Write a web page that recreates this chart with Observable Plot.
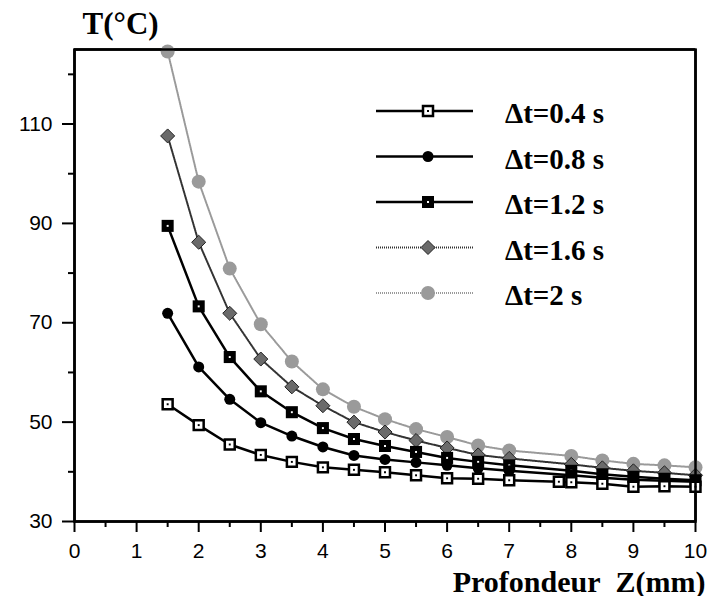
<!DOCTYPE html>
<html>
<head>
<meta charset="utf-8">
<script src="https://cdn.jsdelivr.net/npm/d3@7"></script>
<script src="https://cdn.jsdelivr.net/npm/@observablehq/plot@0.6"></script>
<style>
  html, body { margin: 0; padding: 0; background: white; overflow: hidden; }
  #wrap { width: 715px; height: 596px; font-family: 'Liberation Sans', Arial, sans-serif; }
  #wrap > svg { display: block; }
</style>
</head>
<body>
<div id="wrap"></div>
<script>
// ---- data ----
const zDepth   = [1.5, 2, 2.5, 3, 3.5, 4, 4.5, 5, 5.5, 6, 6.5, 7, 8, 8.5, 9, 9.5, 10];
const zDepth04 = [1.5, 2, 2.5, 3, 3.5, 4, 4.5, 5, 5.5, 6, 6.5, 7, 7.8, 8, 8.5, 9, 9.5, 10];
const temp04 = [53.6, 49.4, 45.5, 43.4, 42.0, 40.9, 40.4, 39.9, 39.3, 38.7, 38.6, 38.3, 38.0, 37.9, 37.6, 37.0, 37.1, 37.0];
const temp08 = [71.9, 61.1, 54.6, 49.9, 47.2, 45.0, 43.3, 42.5, 41.9, 41.3, 40.7, 40.2, 39.3, 38.8, 38.4, 38.2, 38.0];
const temp12 = [89.5, 73.3, 63.1, 56.2, 52.0, 48.8, 46.6, 45.2, 44.0, 42.8, 42.0, 41.3, 40.2, 39.5, 39.0, 38.6, 38.3];
const temp16 = [107.6, 86.2, 71.9, 62.7, 57.1, 53.3, 50.0, 48.0, 46.3, 44.8, 43.4, 42.7, 41.5, 40.8, 40.2, 39.8, 39.3];
const temp20 = [124.6, 98.4, 80.9, 69.7, 62.2, 56.6, 53.1, 50.6, 48.6, 47.0, 45.3, 44.3, 43.2, 42.3, 41.6, 41.3, 40.9];
const seriesLabels = ["\u0394t=0.4 s", "\u0394t=0.8 s", "\u0394t=1.2 s", "\u0394t=1.6 s", "\u0394t=2 s"];
const xDomain = [0, 10];
const yDomain = [30, 125];
const yTicksMajor = [30, 50, 70, 90, 110];
const yTicksMinor = [40, 60, 80, 100, 120];
const xTicksMajor = [0, 1, 2, 3, 4, 5, 6, 7, 8, 9, 10];
const xTicksMinor = [0.5, 1.5, 2.5, 3.5, 4.5, 5.5, 6.5, 7.5, 8.5, 9.5];
const yTitle = "T(\u00b0C)";
const xTitle = "Profondeur\u00a0\u00a0Z(mm)";

const rows = (z, t) => z.map((x, i) => ({z: x, t: t[i]}));
const d04 = rows(zDepth04, temp04);
const d08 = rows(zDepth, temp08);
const d12 = rows(zDepth, temp12);
const d16 = rows(zDepth, temp16);
const d20 = rows(zDepth, temp20);

const diamondSym = {
  draw(ctx, size) {
    const r = Math.sqrt(size / 2);
    ctx.moveTo(0, -r); ctx.lineTo(r, 0); ctx.lineTo(0, r); ctx.lineTo(-r, 0); ctx.closePath();
  }
};

const serif = "'Liberation Serif', 'Times New Roman', serif";
const sans = "'Liberation Sans', Arial, sans-serif";
const xy = {x: "z", y: "t"};

const chart = Plot.plot({
  width: 715,
  height: 596,
  marginLeft: 74,
  marginRight: 20,
  marginTop: 49,
  marginBottom: 75,
  x: {domain: xDomain, label: null},
  y: {domain: yDomain, label: null},
  marks: [
    Plot.frame({stroke: "black", strokeWidth: 2.5}),
    // series 2 s
    Plot.line(d20, {...xy, stroke: "#9a9a9a", strokeWidth: 2, strokeDasharray: "1,1"}),
    Plot.dot(d20, {...xy, r: 7, fill: "#9a9a9a"}),
    // series 1.6 s
    Plot.line(d16, {...xy, stroke: "#333", strokeWidth: 2, strokeDasharray: "1,1"}),
    Plot.dot(d16, {...xy, symbol: diamondSym, r: 5.6, fill: "#6a6a6a", stroke: "#222", strokeWidth: 1}),
    // series 1.2 s
    Plot.line(d12, {...xy, stroke: "black", strokeWidth: 2.5}),
    Plot.dot(d12, {...xy, symbol: "square", r: 6.8, fill: "black"}),
    Plot.dot(d12, {...xy, symbol: "square", r: 1.1, fill: "white"}),
    // series 0.8 s
    Plot.line(d08, {...xy, stroke: "black", strokeWidth: 2.5}),
    Plot.dot(d08, {...xy, r: 5.5, fill: "black"}),
    // series 0.4 s
    Plot.line(d04, {...xy, stroke: "black", strokeWidth: 2.5}),
    Plot.dot(d04, {...xy, symbol: "square", r: 5.6, fill: "white", stroke: "black", strokeWidth: 2.5}),
    Plot.dot(d04, {...xy, symbol: "square", r: 1.1, fill: "black"}),
    // axes
    Plot.axisY(yTicksMajor, {tickSize: 12, tickPadding: 10, strokeWidth: 2, fontSize: 21, fontFamily: sans, label: null}),
    Plot.axisY(yTicksMinor, {tickSize: 6, tickFormat: () => "", strokeWidth: 2, label: null}),
    Plot.axisX(xTicksMajor, {tickSize: 11, tickPadding: 11, strokeWidth: 2, fontSize: 21, fontFamily: sans, label: null}),
    Plot.axisX(xTicksMinor, {tickSize: 6, tickFormat: () => "", strokeWidth: 2, label: null}),
    // titles
    Plot.text([yTitle], {frameAnchor: "top-left", dx: 8, dy: -16, textAnchor: "start", lineAnchor: "bottom",
      fontFamily: serif, fontWeight: "bold", fontSize: 31, fill: "black"}),
    Plot.text([xTitle], {frameAnchor: "bottom-right", dx: 10, dy: 70, textAnchor: "end", lineAnchor: "bottom",
      fontFamily: serif, fontWeight: "bold", fontSize: 30, fill: "black"}),
    Plot.ruleX(xDomain, {stroke: "black", strokeWidth: 2.5}),
    Plot.ruleY(yDomain, {stroke: "black", strokeWidth: 2.5})
  ]
});

const wrap = document.getElementById("wrap");
wrap.appendChild(chart);

// ---- legend, drawn inside the chart svg ----
const leg = d3.select(chart).append("g").attr("class", "legend").attr("text-anchor", "start");
const lineX0 = 376, lineX1 = 473, markX = 428, textX = 505, row0 = 111, rowStep = 45.5;
const legStyles = [
  {stroke: "black", dash: null, sw: 2.5},
  {stroke: "black", dash: null, sw: 2.5},
  {stroke: "black", dash: null, sw: 2.5},
  {stroke: "#333", dash: "1,1", sw: 2},
  {stroke: "#9a9a9a", dash: "1,1", sw: 2}
];
const sq = s => d3.symbol(d3.symbolSquare, s * s)();
seriesLabels.forEach((lab, i) => {
  const y = row0 + i * rowStep;
  const st = legStyles[i];
  const g = leg.append("g");
  g.append("line").attr("x1", lineX0).attr("x2", lineX1).attr("y1", y).attr("y2", y)
    .attr("stroke", st.stroke).attr("stroke-width", st.sw).attr("stroke-dasharray", st.dash);
  const m = g.append("g").attr("transform", `translate(${markX},${y})`);
  if (i === 0) {
    m.append("path").attr("d", sq(10)).attr("fill", "white").attr("stroke", "black").attr("stroke-width", 2.5);
    m.append("path").attr("d", sq(2)).attr("fill", "black");
  } else if (i === 1) {
    m.append("circle").attr("r", 5.5).attr("fill", "black");
  } else if (i === 2) {
    m.append("path").attr("d", sq(12)).attr("fill", "black");
    m.append("path").attr("d", sq(2)).attr("fill", "white");
  } else if (i === 3) {
    m.append("path").attr("d", "M0,-7L7,0L0,7L-7,0Z").attr("fill", "#6a6a6a").attr("stroke", "#222").attr("stroke-width", 1);
  } else {
    m.append("circle").attr("r", 7).attr("fill", "#9a9a9a");
  }
  g.append("text").attr("x", textX).attr("y", y + 12).attr("text-anchor", "start").text(lab)
    .attr("font-family", serif).attr("font-weight", "bold").attr("font-size", 29).attr("fill", "black");
});
</script>
</body>
</html>
